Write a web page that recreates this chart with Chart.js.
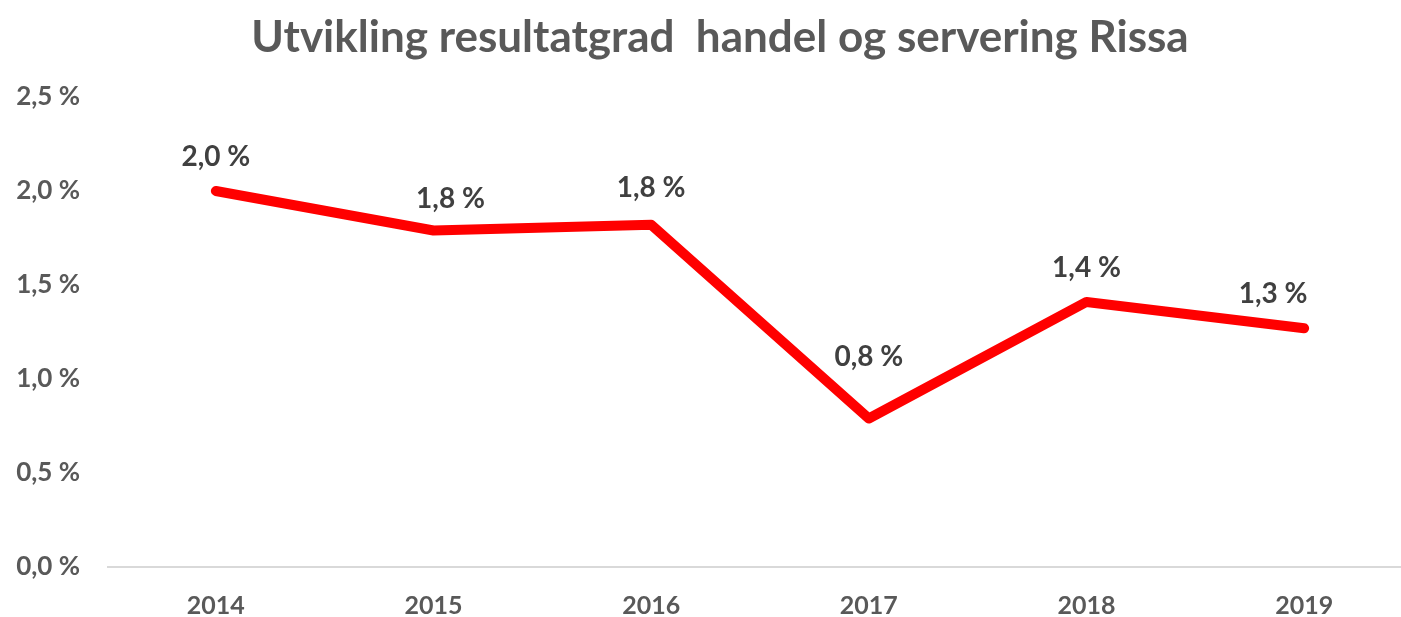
<!DOCTYPE html>
<html>
<head>
<meta charset="utf-8">
<script src="https://cdn.jsdelivr.net/npm/chart.js@4"></script>
<style>
  html, body { margin: 0; padding: 0; background: #fff; overflow: hidden; width: 1401px; height: 617px; }
  #wrap { position: absolute; left: 0; top: 0; width: 1414px; height: 617px; }
  #title { position: absolute; left: 0; top: 9px; width: 1440px; text-align: center;
           font-family: Lato, "Open Sans", sans-serif; font-weight: bold; font-size: 44px;
           color: #595959; white-space: pre; line-height: 1.2; }
</style>
</head>
<body>
<div id="wrap"><canvas id="c" width="1414" height="617"></canvas></div>
<div id="title">Utvikling resultatgrad  handel og servering Rissa</div>
<script>
const categories = ["2014", "2015", "2016", "2017", "2018", "2019"];
const resultatgrad = [2.0, 1.79, 1.82, 0.79, 1.41, 1.27];
const yTickValues = [0, 0.5, 1.0, 1.5, 2.0, 2.5];
const labelOffsets = [[0, -34], [17, -32], [0, -37], [0, -62], [0, -34], [-31, -34]];

const fmt = v => v.toFixed(1).replace('.', ',') + ' %';

const labelPlugin = {
  id: 'pointLabels',
  afterDatasetsDraw(chart) {
    const ctx = chart.ctx;
    const meta = chart.getDatasetMeta(0);
    ctx.save();
    ctx.font = 'bold 28px Lato, "Open Sans", sans-serif';
    ctx.fillStyle = '#404040';
    ctx.textAlign = 'center';
    ctx.textBaseline = 'middle';
    meta.data.forEach((pt, i) => {
      const off = labelOffsets[i];
      ctx.fillText(fmt(resultatgrad[i]), pt.x + off[0], pt.y + off[1]);
    });
    ctx.restore();
  }
};

new Chart(document.getElementById('c'), {
  type: 'line',
  data: {
    labels: categories,
    datasets: [{
      data: resultatgrad,
      borderColor: '#ff0000',
      borderWidth: 10,
      borderCapStyle: 'round',
      borderJoinStyle: 'round',
      pointRadius: 0,
      tension: 0,
      fill: false
    }]
  },
  options: {
    responsive: false,
    animation: false,
    layout: { padding: { top: 97, right: 1, bottom: 0, left: 0 } },
    plugins: { legend: { display: false }, title: { display: false }, tooltip: { enabled: false } },
    scales: {
      x: {
        offset: true,
        afterFit(scale) { scale.height = 50; },
        grid: { display: false, drawTicks: false },
        border: { display: false },
        ticks: { color: '#595959', padding: 24, font: { family: 'Lato, "Open Sans", sans-serif', weight: 'bold', size: 25 } }
      },
      y: {
        min: 0, max: 2.5,
        afterBuildTicks(scale) { scale.ticks = yTickValues.map(v => ({ value: v })); },
        afterFit(scale) { scale.width = 107; },
        grid: {
          drawTicks: false,
          color: ctx => (ctx.tick && ctx.tick.value === 0) ? '#d9d9d9' : 'rgba(0,0,0,0)',
          lineWidth: 2
        },
        border: { display: false },
        ticks: {
          color: '#595959', padding: 27,
          font: { family: 'Lato, "Open Sans", sans-serif', weight: 'bold', size: 26 },
          callback: v => fmt(v)
        }
      }
    }
  },
  plugins: [labelPlugin]
});
</script>
</body>
</html>
